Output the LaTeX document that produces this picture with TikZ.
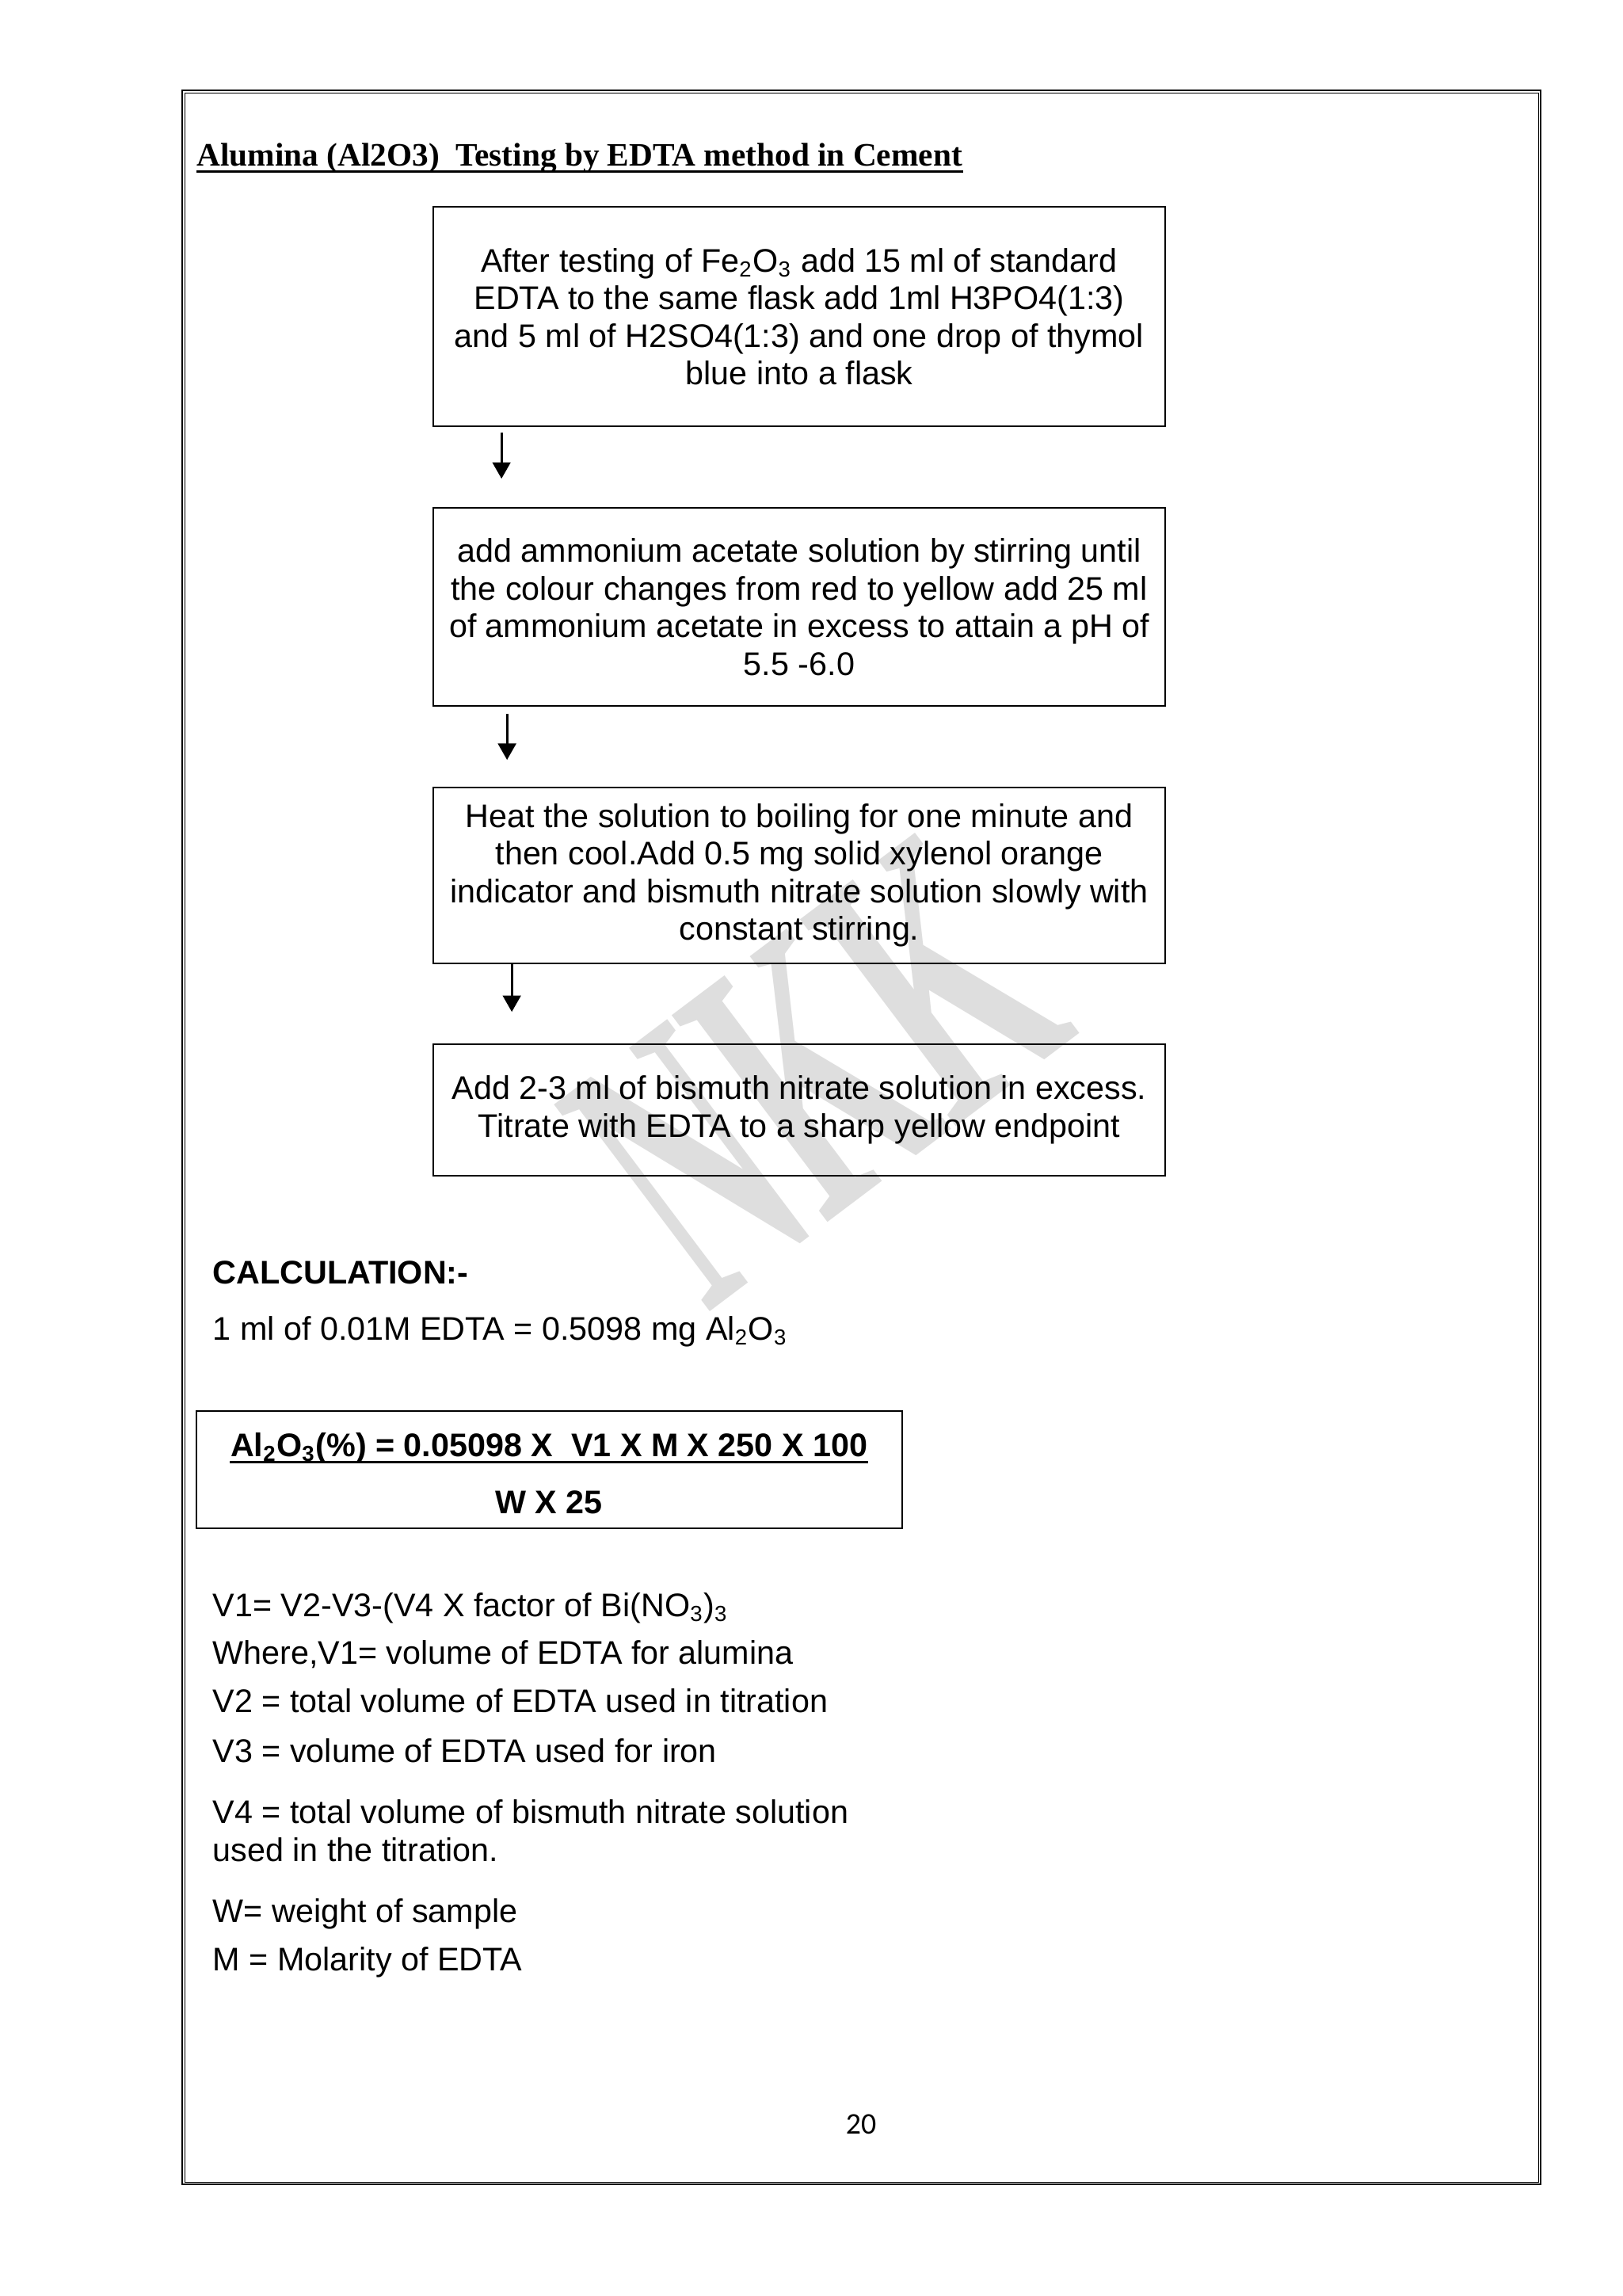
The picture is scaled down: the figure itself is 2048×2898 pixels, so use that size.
\documentclass[tikz,border=0pt]{standalone}
\usepackage{fontspec}
\setmainfont{Liberation Sans}
\newfontfamily\titlefont{Liberation Serif}
\newfontfamily\pagefont{Carlito}
\usetikzlibrary{arrows.meta,calc}

\begin{document}
\begin{tikzpicture}[x=0.29053pt,y=-0.29053pt,
  stepbox/.style={draw, line width=0.5pt, minimum width=268.45pt, align=center, inner sep=0pt, font=\fontsize{12}{13.8}\selectfont},
  flowarrow/.style={line width=0.8pt, -{Triangle[width=6.6pt,length=6pt]}},
  txt/.style={anchor=base west, inner sep=0pt, font=\fontsize{12}{13.8}\selectfont},
  boldtxt/.style={anchor=base, inner sep=0pt, font=\bfseries\fontsize{12}{13.8}\selectfont},
]
\useasboundingbox (0,0) rectangle (2048,2898);
\fill[white] (0,0) rectangle (2048,2898);

% watermark
\node[text=black!13, rotate=37, xscale=0.52, font=\titlefont\bfseries\fontsize{145}{145}\selectfont, inner sep=0pt] (wm) at (1030,1350) {NKK};

% page frame
\draw[line width=0.6pt] (230,114.3) rectangle (1945.3,2757.3);
\draw[line width=0.35pt] (233.3,117.5) rectangle (1942.5,2754.3);

% title
\node[txt, font=\titlefont\bfseries\fontsize{12}{14}\selectfont] (title) at (248,210) {Alumina (Al2O3)\ \ Testing by EDTA method in Cement};
\draw[line width=0.8pt] ([yshift=-1.9pt]title.base west) -- ([yshift=-1.9pt]title.base east);

% flow boxes
\node[stepbox, minimum height=80.5pt] (b1) at (1009,399.5) {After testing of Fe\textsubscript{2}O\textsubscript{3} add 15 ml of standard\\EDTA to the same flask add 1ml H3PO4(1:3)\\and 5 ml of H2SO4(1:3) and one drop of thymol\\blue into a flask};
\node[stepbox, minimum height=72.6pt] (b2) at (1009,766) {add ammonium acetate solution by stirring until\\the colour changes from red to yellow add 25 ml\\of ammonium acetate in excess to attain a pH of\\5.5 -6.0};
\node[stepbox, minimum height=64.5pt] (b3) at (1009,1105) {Heat the solution to boiling for one minute and\\then cool.Add 0.5 mg solid xylenol orange\\indicator and bismuth nitrate solution slowly with\\constant stirring.};
\node[stepbox, minimum height=48.2pt] (b4) at (1009,1401) {Add 2-3 ml of bismuth nitrate solution in excess.\\Titrate with EDTA to a sharp yellow endpoint};

\draw[flowarrow] ($(b1.south west)+(87,7)$) -- ($(b2.north west)+(87,-36)$);
\draw[flowarrow] ($(b2.south west)+(94,9)$) -- ($(b3.north west)+(94,-34)$);
\draw[flowarrow] ($(b3.south west)+(100,0)$) -- ($(b4.north west)+(100,-40)$);

% calculation
\node[txt, font=\bfseries\fontsize{12}{13.8}\selectfont] (calc) at (268,1620.7) {CALCULATION:-};
\node[txt] (eq) at (268,1691.7) {1 ml of 0.01M EDTA = 0.5098 mg Al\textsubscript{2}O\textsubscript{3}};

\node[draw, line width=0.6pt, minimum width=258.8pt, minimum height=43.1pt, inner sep=0pt] (fbox) at (693.2,1854.9) {};
\node[boldtxt] (num) at (693.2,1838) {Al\textsubscript{2}O\textsubscript{3}(\%) = 0.05098 X\ \ V1 X M X 250 X 100};
\draw[line width=0.9pt] ([yshift=-2.2pt]num.base west) -- ([yshift=-2.2pt]num.base east);
\node[boldtxt] (den) at (693.2,1910) {W X 25};

% definitions
\node[txt] (d1) at (268,2040) {V1= V2-V3-(V4 X factor of Bi(NO\textsubscript{3})\textsubscript{3}};
\node[txt] (d2) at (268,2100) {Where,V1= volume of EDTA for alumina};
\node[txt] (d3) at (268,2161) {V2 = total volume of EDTA used in titration};
\node[txt] (d4) at (268,2224) {V3 = volume of EDTA used for iron};
\node[txt] (d5) at (268,2301) {V4 = total volume of bismuth nitrate solution};
\node[txt] (d6) at (268,2349) {used in the titration.};
\node[txt] (d7) at (268,2426) {W= weight of sample};
\node[txt] (d8) at (268,2487) {M = Molarity of EDTA};

% page number
\node[anchor=base, inner sep=0pt, font=\pagefont\fontsize{11}{13}\selectfont] (pg) at (1087,2693) {20};
\end{tikzpicture}
\end{document}
